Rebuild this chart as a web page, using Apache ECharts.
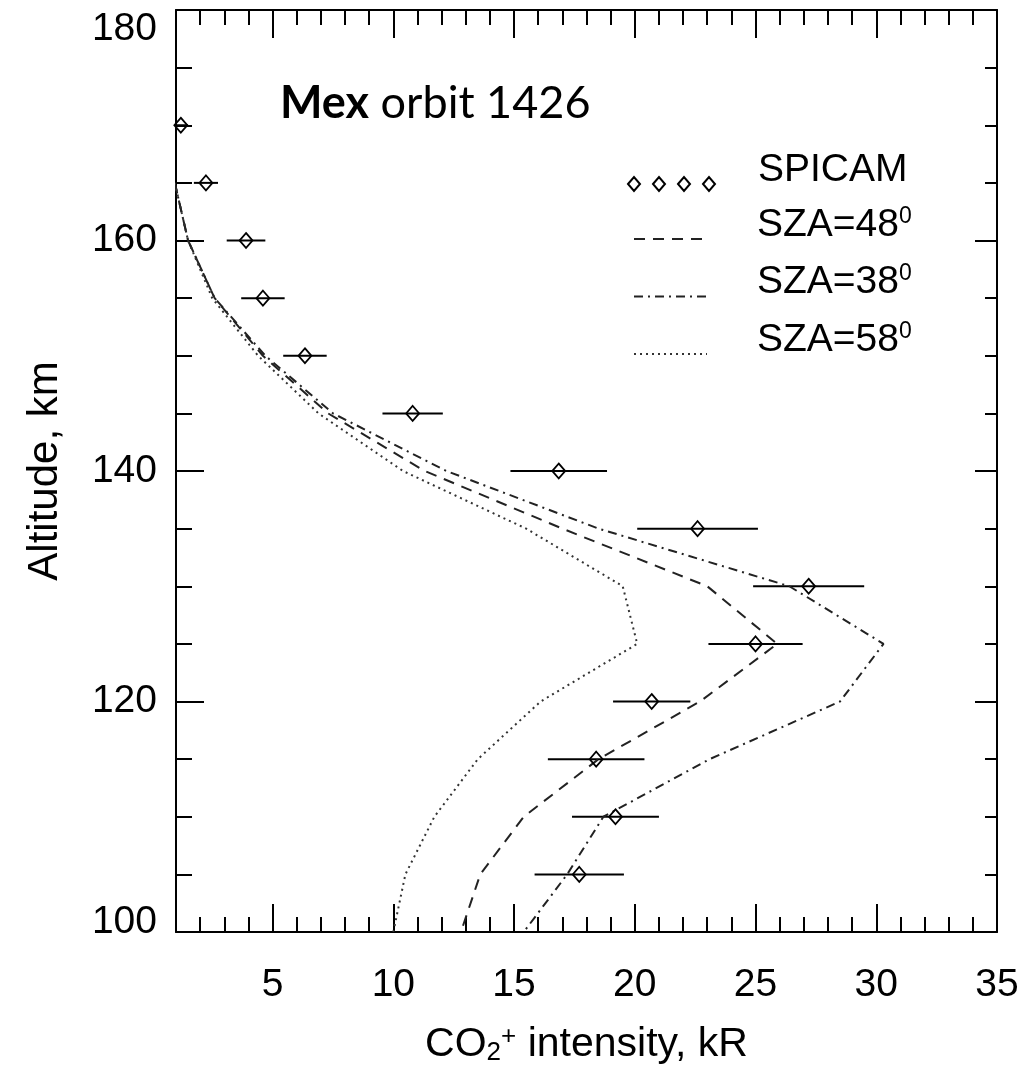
<!DOCTYPE html>
<html><head><meta charset="utf-8">
<script src="https://cdn.jsdelivr.net/npm/echarts@6/dist/echarts.min.js"></script>
<style>html,body{margin:0;padding:0;background:#fff}#c{width:1026px;height:1079px}</style>
</head><body><div id="c"></div>
<script>
// SPICAM observations
const spicamAlt = [170,165,160,155,150,145,140,135,130,125,120,115,110,105];
const spicamVal = [1.2,2.24,3.9,4.6,6.34,10.8,16.85,22.6,27.2,25.0,20.7,18.4,19.2,17.7];
const spicamErr = [0.3,0.5,0.8,0.9,0.9,1.25,2.0,2.5,2.3,1.95,1.6,2.0,1.8,1.85];
// model profiles
const modelAlt = [165,160,155,150,145,140,135,130,125,120,115,110,105,100];
const sza48 = [0.95,1.5,2.6,4.6,7.3,11.3,17.0,23.0,25.9,22.7,18.5,15.4,13.6,12.8];
const sza38 = [0.95,1.5,2.6,4.7,7.5,12.2,18.5,26.4,30.3,28.5,23.1,18.7,17.2,15.4];
const sza58 = [0.95,1.5,2.5,4.4,6.9,10.4,15.5,19.5,20.1,16.1,13.5,11.7,10.5,10.0];
// ticks
const xMajorTicks = [5,10,15,20,25,30,35];
const xMinorTicks = [2,3,4,6,7,8,9,11,12,13,14,16,17,18,19,21,22,23,24,26,27,28,29,31,32,33,34];
const yLabels = [100,120,140,160,180];

const FONT = 'Liberation Sans';
const K = '#000';

function xAx(pos, ticks, len, withLabels, lineShow) {
  const ax = {
    type: 'value', position: pos, min: 1, max: 35,
    axisLine: {show: lineShow, onZero: false, lineStyle: {color: K, width: 2}},
    axisTick: {show: true, inside: true, length: len, customValues: ticks, lineStyle: {color: K, width: 2}},
    axisLabel: {show: false},
    splitLine: {show: false}
  };
  if (withLabels) {
    ax.axisLabel = {show: true, customValues: xMajorTicks, fontSize: 39, fontFamily: FONT, color: K, margin: 34};
    ax.name = '{n|CO}{sub|2}{sup|+}{n| intensity, kR}';
    ax.nameLocation = 'middle';
    ax.nameGap = 92;
    ax.nameTextStyle = {fontFamily: FONT, color: K, fontSize: 41, rich: {
      n: {fontFamily: FONT, fontSize: 41, lineHeight: 42, color: K},
      sub: {fontFamily: FONT, fontSize: 26, lineHeight: 14, verticalAlign: 'bottom', color: K},
      sup: {fontFamily: FONT, fontSize: 26, lineHeight: 14, verticalAlign: 'top', color: K}
    }};
  }
  return ax;
}
function yAx(pos, major, minor, withLabels) {
  const ax = {
    type: 'value', position: pos, min: 100, max: 180, interval: 20,
    axisLine: {show: true, onZero: false, lineStyle: {color: K, width: 2}},
    axisTick: {show: true, inside: true, length: major, lineStyle: {color: K, width: 2}},
    minorTick: {show: true, splitNumber: 4, length: minor, lineStyle: {color: K, width: 2}},
    axisLabel: {show: false},
    splitLine: {show: false}
  };
  if (withLabels) {
    ax.axisLabel = {show: true, customValues: yLabels, fontSize: 39, fontFamily: FONT, color: K, margin: 19,
      verticalAlignMaxLabel: 'top',
      formatter: v => v === 100 ? '{b|' + v + '}' : '{m|' + v + '}',
      rich: {
        b: {fontFamily: FONT, fontSize: 39, color: K, padding: [0, 0, 20, 0]},
        m: {fontFamily: FONT, fontSize: 39, color: K}
      }};
    ax.name = 'Altitude, km';
    ax.nameLocation = 'middle';
    ax.nameGap = 110;
    ax.nameTextStyle = {fontFamily: FONT, fontSize: 42, color: K};
  }
  return ax;
}

const legendText = {fontFamily: FONT, fontSize: 39, color: K, lineHeight: 40,
  rich: {
    n: {fontFamily: FONT, fontSize: 39, lineHeight: 40, color: K},
    s: {fontFamily: FONT, fontSize: 23, lineHeight: 14, verticalAlign: 'top', color: K}
  }};

const chart = echarts.init(document.getElementById('c'), null, {renderer: 'canvas'});
chart.setOption({
  animation: false,
  backgroundColor: '#fff',
  title: {
    text: '{b|Mex} orbit 1426', left: 275, top: 76,
    textStyle: {fontFamily: 'Lato', fontSize: 45, fontWeight: 'normal', color: K,
      rich: {b: {fontFamily: 'Lato', fontSize: 45, fontWeight: 'bold', color: K}}}
  },
  grid: {left: 176, right: 29, top: 10, bottom: 147, containLabel: false},
  legend: [
    {
      data: [{name: 'SPICAM', icon: 'path://M0,7L6,0L12,7L6,14Z M25,7L31,0L37,7L31,14Z M50,7L56,0L62,7L56,14Z M75,7L81,0L87,7L81,14Z'}],
      left: 627, top: 150, padding: 0, itemWidth: 87, itemHeight: 14,
      formatter: n => '{n|' + n + '}',
      textStyle: Object.assign({}, legendText, {padding: [0, 0, 28, 38]}),
      selectedMode: false
    },
    {
      data: ['SZA=48', 'SZA=38', 'SZA=58'],
      orient: 'vertical', left: 633, top: 205, padding: 0, itemWidth: 73, itemHeight: 14, itemGap: -10.5,
      formatter: n => '{n|' + n + '}{s|0}',
      itemStyle: {opacity: 0},
      textStyle: Object.assign({}, legendText, {padding: [0, 0, 28, 45]}),
      selectedMode: false
    }
  ],
  xAxis: [
    xAx('bottom', xMajorTicks, 28, true, true),
    xAx('bottom', xMinorTicks, 15, false, false),
    xAx('top', xMajorTicks, 28, false, true),
    xAx('top', xMinorTicks, 15, false, false)
  ],
  yAxis: [
    yAx('left', 28, 16, true),
    yAx('right', 22, 12, false)
  ],
  series: [
    {
      name: 'SZA=48', type: 'line', xAxisIndex: 0, yAxisIndex: 0, symbol: 'none', showSymbol: false, clip: true,
      data: modelAlt.map((a, i) => [sza48[i], a]),
      itemStyle: {color: '#222'},
      lineStyle: {color: '#222', width: 2, type: [11, 8]}
    },
    {
      name: 'SZA=38', type: 'line', xAxisIndex: 0, yAxisIndex: 0, symbol: 'none', showSymbol: false, clip: true,
      data: modelAlt.map((a, i) => [sza38[i], a]),
      itemStyle: {color: '#222'},
      lineStyle: {color: '#222', width: 2, type: [9, 5, 2, 5]}
    },
    {
      name: 'SZA=58', type: 'line', xAxisIndex: 0, yAxisIndex: 0, symbol: 'none', showSymbol: false, clip: true,
      data: modelAlt.map((a, i) => [sza58[i], a]),
      itemStyle: {color: '#333'},
      lineStyle: {color: '#333', width: 2, type: [2, 4]}
    },
    {
      name: 'SPICAM err', type: 'custom', xAxisIndex: 0, yAxisIndex: 0, clip: true, z: 3,
      data: spicamAlt.map((a, i) => [spicamVal[i] - spicamErr[i], spicamVal[i] + spicamErr[i], a]),
      encode: {x: [0, 1], y: 2},
      renderItem: (params, api) => {
        const p1 = api.coord([api.value(0), api.value(2)]);
        const p2 = api.coord([api.value(1), api.value(2)]);
        return {type: 'line', shape: {x1: p1[0], y1: p1[1], x2: p2[0], y2: p2[1]},
          style: {stroke: K, lineWidth: 2}};
      }
    },
    {
      name: 'SPICAM', type: 'scatter', xAxisIndex: 0, yAxisIndex: 0, z: 4,
      symbol: 'diamond', symbolSize: [13, 15],
      data: spicamAlt.map((a, i) => [spicamVal[i], a]),
      itemStyle: {color: 'rgba(255,255,255,0)', borderColor: K, borderWidth: 1.8, opacity: 1}
    }
  ]
});
</script>
</body></html>
